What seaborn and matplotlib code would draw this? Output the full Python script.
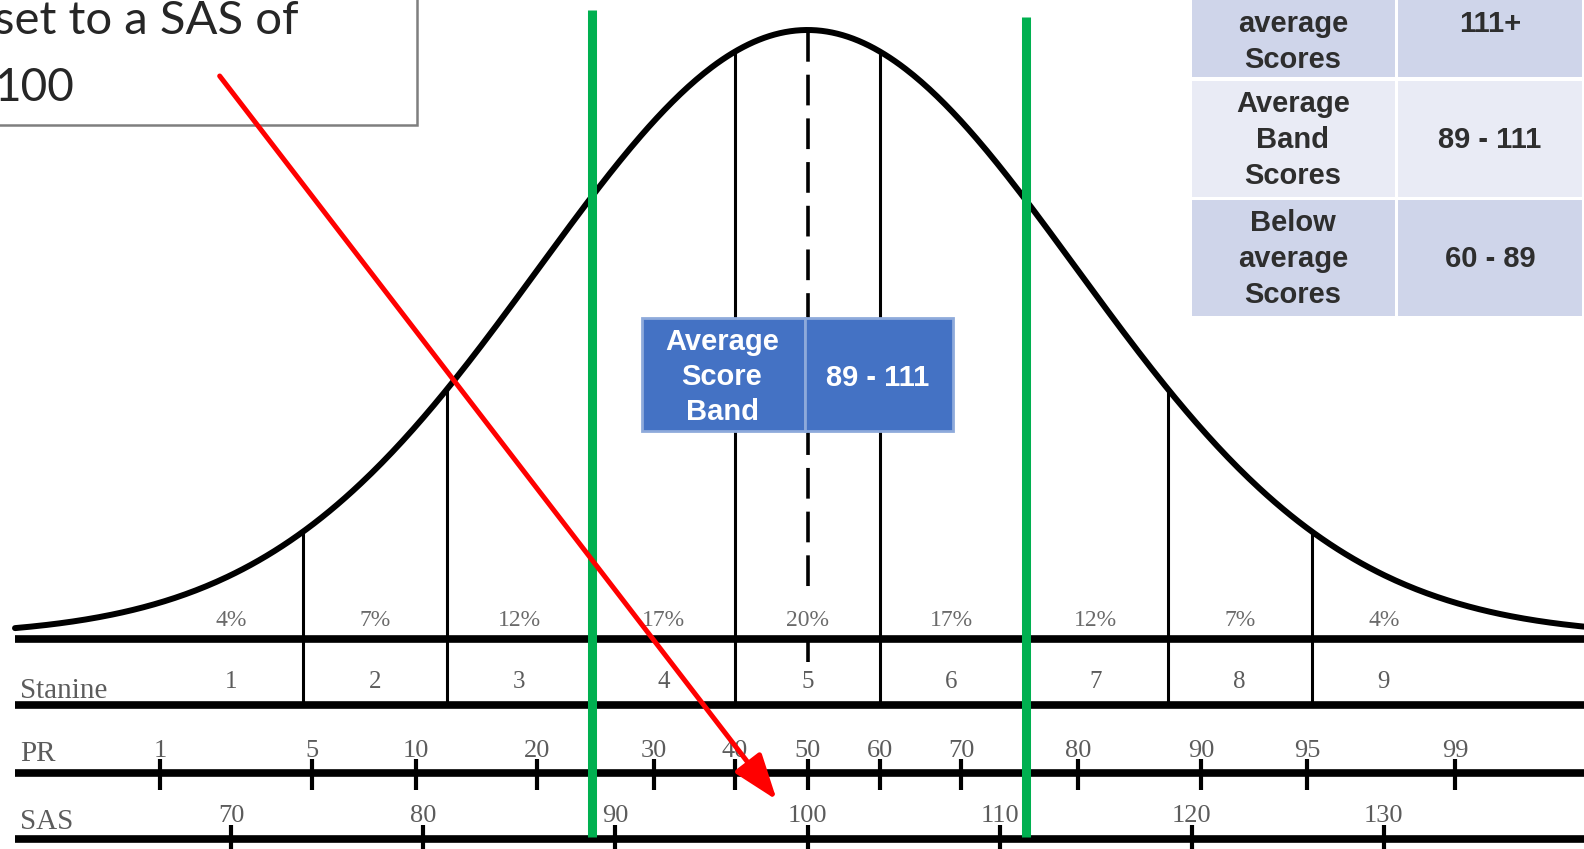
import numpy as np
import matplotlib
matplotlib.use('Agg')
import matplotlib.pyplot as plt
from matplotlib.patches import Rectangle
import seaborn as sns

# --- data (SAS units on x) ---
curve_mean = 100
curve_sd = 14

stanine_numbers = [1, 2, 3, 4, 5, 6, 7, 8, 9]
stanine_centers = [70, 77.5, 85, 92.5, 100, 107.5, 115, 122.5, 130]
stanine_pct = ['4%', '7%', '12%', '17%', '20%', '17%', '12%', '7%', '4%']
stanine_bounds = [73.75, 81.25, 88.75, 96.25, 103.75, 111.25, 118.75, 126.25]

pr_labels = [1, 5, 10, 20, 30, 40, 50, 60, 70, 80, 90, 95, 99]
pr_at_sas = [66.3, 74.2, 79.6, 85.9, 92.0, 96.2, 100.0, 103.8, 108.0, 114.1, 120.5, 126.0, 133.7]

sas_ticks = [70, 80, 90, 100, 110, 120, 130]

band_edges = [88.8, 111.4]

arrow_from_sas = 69.4
arrow_to_sas = 98.4

note_lines = ['set to a SAS of', '100']

band_names = ['Above\naverage\nScores', 'Average\nBand\nScores', 'Below\naverage\nScores']
band_ranges = ['111+', '89 - 111', '60 - 89']

box_label = 'Average\nScore\nBand'
box_range = '89 - 111'

# --- layout (pixels of the 1584 x 849 canvas) ---
W, H = 1584, 849
PX_PER_SAS = 19.21
SAS_AT_PX0 = 100 - 807.5 / PX_PER_SAS
SAS_AT_W = 100 + (W - 807.5) / PX_PER_SAS
LEFT_SAS = SAS_AT_PX0 + 15 / PX_PER_SAS

CURVE_BASE, CURVE_AMP = 636, 606
Y_LINE1, Y_LINE2, Y_PR, Y_SAS = 639, 705, 773, 839

sns.set_theme(style='white')
plt.rcParams['font.family'] = ['Liberation Sans', 'DejaVu Sans']

fig = plt.figure(figsize=(W / 100, H / 100), dpi=100)
ax = fig.add_axes([0, 0, 1, 1])
ax.set_xlim(SAS_AT_PX0, SAS_AT_W)
ax.set_ylim(H, 0)
ax.axis('off')


def fx(p):
    return p / W


def fy(p):
    return 1 - p / H


def curve_y(s):
    return CURVE_BASE - CURVE_AMP * np.exp(-((np.asarray(s) - curve_mean) ** 2) / (2 * curve_sd ** 2))


serif = ['Liberation Serif', 'DejaVu Serif']
grey = '#5c5c5c'

# normal curve
xs = np.linspace(LEFT_SAS, SAS_AT_W, 600)
sns.lineplot(x=xs, y=curve_y(xs), ax=ax, color='black', lw=4.3, zorder=3)

# stanine boundaries from the curve down to the second rule
for b in stanine_bounds:
    ax.vlines(b, curve_y(b), Y_LINE2, color='black', lw=2.2, zorder=2)

# centre dashed line
ax.vlines(curve_mean, 31, 595, color='black', lw=2.6, linestyles=(0, (8.5, 3.6)), zorder=2)
ax.vlines(curve_mean, Y_LINE1, 662, color='black', lw=2.6, zorder=2)

# horizontal rules
for yy in [Y_LINE1, Y_LINE2, Y_PR, Y_SAS]:
    ax.hlines(yy, LEFT_SAS, SAS_AT_W, color='black', lw=5.5, zorder=3)

# percentage and stanine labels
for c, p, n in zip(stanine_centers, stanine_pct, stanine_numbers):
    ax.text(c, 620, p, ha='center', va='center', fontsize=17, color='#6a6a6a', family=serif)
    ax.text(c, 682, str(n), ha='center', va='center', fontsize=18, color=grey, family=serif)

ax.text(fx(20), fy(691), 'Stanine', transform=ax.transAxes, ha='left', va='center',
        fontsize=21, color=grey, family=serif)
ax.text(fx(20), fy(754), 'PR', transform=ax.transAxes, ha='left', va='center',
        fontsize=21, color=grey, family=serif)
ax.text(fx(20), fy(822), 'SAS', transform=ax.transAxes, ha='left', va='center',
        fontsize=21, color=grey, family=serif)

# PR scale
ax.vlines(pr_at_sas, 759, 790, color='black', lw=3, zorder=3)
for lab, s in zip(pr_labels, pr_at_sas):
    ax.text(s, 751, str(lab), ha='center', va='center', fontsize=19, color=grey, family=serif)

# SAS scale
ax.vlines(sas_ticks, 825, H, color='black', lw=3, zorder=3)
for s in sas_ticks:
    ax.text(s, 816, str(s), ha='center', va='center', fontsize=19, color=grey, family=serif)

# average band edges
ax.vlines(band_edges[0], 10, 837, color='#00b050', lw=6.5, zorder=5)
ax.vlines(band_edges[1], 17, 837, color='#00b050', lw=6.5, zorder=5)

# blue "Average Score Band" box
for x0, x1 in [(642, 805), (805, 953)]:
    ax.add_patch(Rectangle((fx(x0), fy(431)), fx(x1 - x0), (431 - 318) / H, transform=ax.transAxes,
                           facecolor='#4472c4', edgecolor='#8eaadb', lw=2, zorder=6))
ax.text(fx(722), fy(377), box_label, transform=ax.transAxes, ha='center', va='center',
        fontsize=21, fontweight='bold', color='white', linespacing=1.32, zorder=7)
ax.text(fx(878), fy(378), box_range, transform=ax.transAxes, ha='center', va='center',
        fontsize=21, fontweight='bold', color='white', zorder=7)

# band table, upper right
rows_y = [(-40, 77), (81, 197), (200, 316)]
row_fill = ['#cfd5ea', '#e9ebf5', '#cfd5ea']
row_mid = [24, 140, 259]
for (y0, y1), fill, yc, name, rng in zip(rows_y, row_fill, row_mid, band_names, band_ranges):
    for x0, x1 in [(1192, 1395), (1398, 1582)]:
        ax.add_patch(Rectangle((fx(x0), fy(y1)), fx(x1 - x0), (y1 - y0) / H, transform=ax.transAxes,
                               facecolor=fill, edgecolor='none', zorder=6))
    ax.text(fx(1293), fy(yc), name, transform=ax.transAxes, ha='center', va='center',
            fontsize=21, fontweight='bold', color='#2e2e2e', linespacing=1.36, zorder=7)
    ax.text(fx(1490), fy(yc), rng, transform=ax.transAxes, ha='center', va='center',
            fontsize=21, fontweight='bold', color='#2e2e2e', zorder=7)

# note box, upper left
ax.add_patch(Rectangle((fx(-10), fy(125)), fx(427), 140 / H, transform=ax.transAxes,
                       facecolor='white', edgecolor='#7f7f7f', lw=1.8, zorder=6))
ax.text(fx(-6), fy(34), note_lines[0], transform=ax.transAxes, ha='left', va='baseline',
        fontsize=34, color='#262626', family=['Lato', 'DejaVu Sans'], zorder=7)
ax.text(fx(-6), fy(101), note_lines[1], transform=ax.transAxes, ha='left', va='baseline',
        fontsize=33, color='#262626', family=['Lato', 'DejaVu Sans'], zorder=7)

# red arrow
ax.annotate('', xy=(arrow_to_sas, 800), xytext=(arrow_from_sas, 76),
            arrowprops=dict(arrowstyle='-|>,head_length=1.4,head_width=0.5', color='red',
                            lw=3.6, shrinkA=0, shrinkB=0, mutation_scale=20),
            zorder=8)

fig.savefig('out.png', dpi=100, facecolor='white')
